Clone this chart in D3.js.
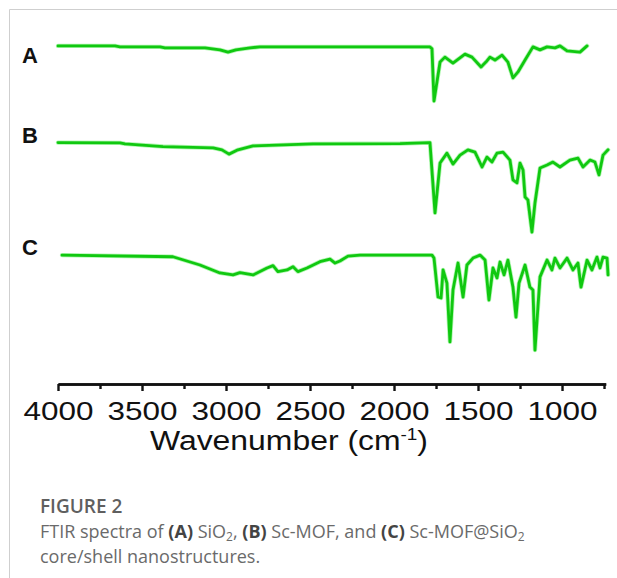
<!DOCTYPE html>
<html>
<head>
<meta charset="utf-8">
<script src="https://cdn.jsdelivr.net/npm/d3@7"></script>
<style>
  html, body { margin: 0; padding: 0; background: #fff; }
  svg { display: block; }
</style>
</head>
<body>
<svg id="chart" width="617" height="578"></svg>
<script>
// ---- Data (wavenumber in cm^-1, transmittance in offset arbitrary units) ----
const seriesNames = ["A", "B", "C"];

const wavenumberA = [4000, 3661, 3631, 3393, 3363, 3125, 3036, 2988, 2941, 2857, 2798, 1786,
  1774, 1762, 1726, 1697, 1649, 1578, 1536, 1482, 1453, 1429, 1399, 1357, 1322, 1292, 1262,
  1220, 1173, 1131, 1089, 1042, 1012, 970, 893, 851];
const transmittanceA = [96.7, 96.7, 96.4, 96.4, 96.1, 96.1, 95.5, 94.8, 95.5, 96.1, 96.4, 96.4,
  95.8, 80.0, 91.8, 93.3, 91.5, 94.2, 93.3, 90.3, 91.8, 93.3, 92.4, 93.9, 91.8, 87.0, 88.8,
  92.4, 96.4, 95.5, 96.4, 96.1, 96.7, 95.2, 94.8, 96.7];

const wavenumberB = [4000, 3631, 3601, 3375, 3077, 3024, 2982, 2929, 2839, 2482, 1964, 1786,
  1756, 1726, 1685, 1649, 1607, 1560, 1518, 1476, 1447, 1417, 1387, 1351, 1310, 1292, 1268,
  1250, 1232, 1220, 1203, 1179, 1161, 1131, 1089, 1054, 1012, 953, 905, 875, 833, 804, 780,
  756, 726];
const transmittanceB = [67.4, 67.3, 67.0, 66.2, 65.8, 65.2, 63.9, 65.2, 66.4, 67.0, 67.1, 67.4,
  46.1, 61.2, 64.2, 60.9, 63.6, 65.2, 64.5, 60.0, 63.0, 61.5, 64.2, 64.5, 62.1, 56.1, 55.2,
  61.2, 59.1, 50.9, 50.0, 40.3, 49.1, 59.7, 60.6, 61.5, 60.0, 62.1, 62.7, 60.0, 62.1, 61.5, 57.6,
  63.6, 65.2];

const wavenumberC = [3976, 3316, 3155, 3036, 2958, 2917, 2839, 2756, 2720, 2691, 2637, 2601,
  2572, 2518, 2441, 2381, 2351, 2322, 2274, 2202, 1774, 1762, 1738, 1720, 1708, 1685, 1667,
  1649, 1619, 1589, 1566, 1530, 1488, 1458, 1435, 1411, 1387, 1369, 1345, 1322, 1292, 1274,
  1256, 1220, 1191, 1173, 1161, 1131, 1089, 1060, 1042, 1012, 970, 935, 905, 887, 851, 822,
  792, 774, 756, 732, 726];
const transmittanceC = [33.3, 32.8, 30.3, 27.9, 27.3, 28.0, 27.3, 29.4, 30.1, 28.3, 28.8, 29.8,
  28.3, 29.4, 31.3, 32.1, 30.9, 31.5, 33.0, 33.3, 33.3, 32.4, 20.6, 20.3, 28.8, 24.8, 7.0,
  22.7, 30.9, 20.6, 30.3, 32.4, 33.3, 31.8, 19.7, 29.4, 26.4, 31.2, 27.3, 31.8, 23.6, 14.5,
  24.8, 30.3, 23.6, 22.7, 4.5, 26.7, 31.8, 28.8, 32.4, 29.4, 32.4, 28.8, 30.9, 23.6, 31.8, 28.8,
  32.7, 29.4, 32.7, 32.4, 27.3];

const majorTicks = [4000, 3500, 3000, 2500, 2000, 1500, 1000];
const minorTicks = [3750, 3250, 2750, 2250, 1750, 1250, 750];
const xTitle = "Wavenumber (cm";
const xTitleSup = "-1";
const captionTitle = "FIGURE 2";

// ---- Drawing ----
const svg = d3.select("#chart");

// page frame
svg.append("line").attr("x1", 9.5).attr("y1", 9.5).attr("x2", 617).attr("y2", 9.5)
  .attr("stroke", "#cfcfcf").attr("stroke-width", 1);
svg.append("line").attr("x1", 9.5).attr("y1", 9.5).attr("x2", 9.5).attr("y2", 578)
  .attr("stroke", "#cfcfcf").attr("stroke-width", 1);

const x = d3.scaleLinear().domain([4000, 740]).range([58, 605.7]);
const y = d3.scaleLinear().domain([0, 100]).range([365, 35]);
const axisY = 384;

const spectra = [
  { name: seriesNames[0], w: wavenumberA, t: transmittanceA },
  { name: seriesNames[1], w: wavenumberB, t: transmittanceB },
  { name: seriesNames[2], w: wavenumberC, t: transmittanceC }
];

const line = d3.line().x(d => x(d[0])).y(d => y(d[1])).curve(d3.curveLinear);

spectra.forEach(s => {
  const pts = s.w.map((w, i) => [w, s.t[i]]);
  svg.append("path").datum(pts)
    .attr("d", line)
    .attr("fill", "none")
    .attr("stroke", "#7cf07c")
    .attr("stroke-width", 4.4)
    .attr("stroke-linejoin", "round")
    .attr("stroke-linecap", "round")
    .attr("opacity", 0.6);
  svg.append("path").datum(pts)
    .attr("d", line)
    .attr("fill", "none")
    .attr("stroke", "#10c810")
    .attr("stroke-width", 2.8)
    .attr("stroke-linejoin", "round")
    .attr("stroke-linecap", "round");
});

// series labels
const labelBase = [63, 143, 255];
spectra.forEach((s, i) => {
  svg.append("text")
    .attr("x", 22).attr("y", labelBase[i])
    .attr("font-family", "Liberation Sans, Arial, sans-serif")
    .attr("font-weight", "bold")
    .attr("font-size", 22)
    .attr("fill", "#111")
    .text(s.name);
});

// axis
const gMinor = svg.append("g").attr("transform", `translate(0,${axisY})`)
  .call(d3.axisBottom(x).tickValues(minorTicks).tickSize(5).tickSizeOuter(0).tickFormat(""));
const gMajor = svg.append("g").attr("transform", `translate(0,${axisY})`)
  .call(d3.axisBottom(x).tickValues(majorTicks).tickSize(7).tickSizeOuter(0).tickFormat(d3.format("d")));
[gMinor, gMajor].forEach(g => {
  g.select(".domain").attr("stroke", "#111").attr("stroke-width", 2.4);
  g.selectAll(".tick line").attr("stroke", "#111").attr("stroke-width", 2.4);
});
gMajor.selectAll(".tick text")
  .attr("y", 36).attr("dy", null)
  .attr("font-family", "Liberation Sans, Arial, sans-serif")
  .attr("font-size", 26)
  .attr("fill", "#111")
  .attr("textLength", 70)
  .attr("lengthAdjust", "spacingAndGlyphs");

// axis title
const title = svg.append("text")
  .attr("x", 289).attr("y", 450)
  .attr("text-anchor", "middle")
  .attr("font-family", "Liberation Sans, Arial, sans-serif")
  .attr("font-size", 27)
  .attr("fill", "#111")
  .attr("textLength", 278)
  .attr("lengthAdjust", "spacingAndGlyphs");
title.append("tspan").text(xTitle);
title.append("tspan").attr("font-size", 16).attr("dy", -10).text(xTitleSup);
title.append("tspan").attr("dy", 10).text(")");

// caption
const capFont = "'Open Sans', Lato, sans-serif";
svg.append("text")
  .attr("x", 40).attr("y", 513)
  .attr("font-family", capFont).attr("font-size", 19).attr("font-weight", 600)
  .attr("fill", "#5f5f5f").text(captionTitle);

const cap2 = svg.append("text")
  .attr("x", 40).attr("y", 538)
  .attr("font-family", capFont).attr("font-size", 18)
  .attr("fill", "#6a6a6a");
const parts = [
  ["FTIR spectra of ", "n"], ["(A)", "b"], [" SiO", "n"], ["2", "sub"], [", ", "n"],
  ["(B)", "b"], [" Sc-MOF, and ", "n"], ["(C)", "b"], [" Sc-MOF@SiO", "n"], ["2", "sub"]
];
parts.forEach(([t, k], i) => {
  const ts = cap2.append("tspan").text(t);
  if (k === "b") ts.attr("font-weight", 700).attr("fill", "#444");
  if (k === "sub") ts.attr("font-size", 12).attr("dy", 3);
  else if (i > 0 && parts[i - 1][1] === "sub") ts.attr("dy", -3);
});

svg.append("text")
  .attr("x", 40).attr("y", 563)
  .attr("font-family", capFont).attr("font-size", 18)
  .attr("fill", "#6a6a6a").text("core/shell nanostructures.");
</script>
</body>
</html>
